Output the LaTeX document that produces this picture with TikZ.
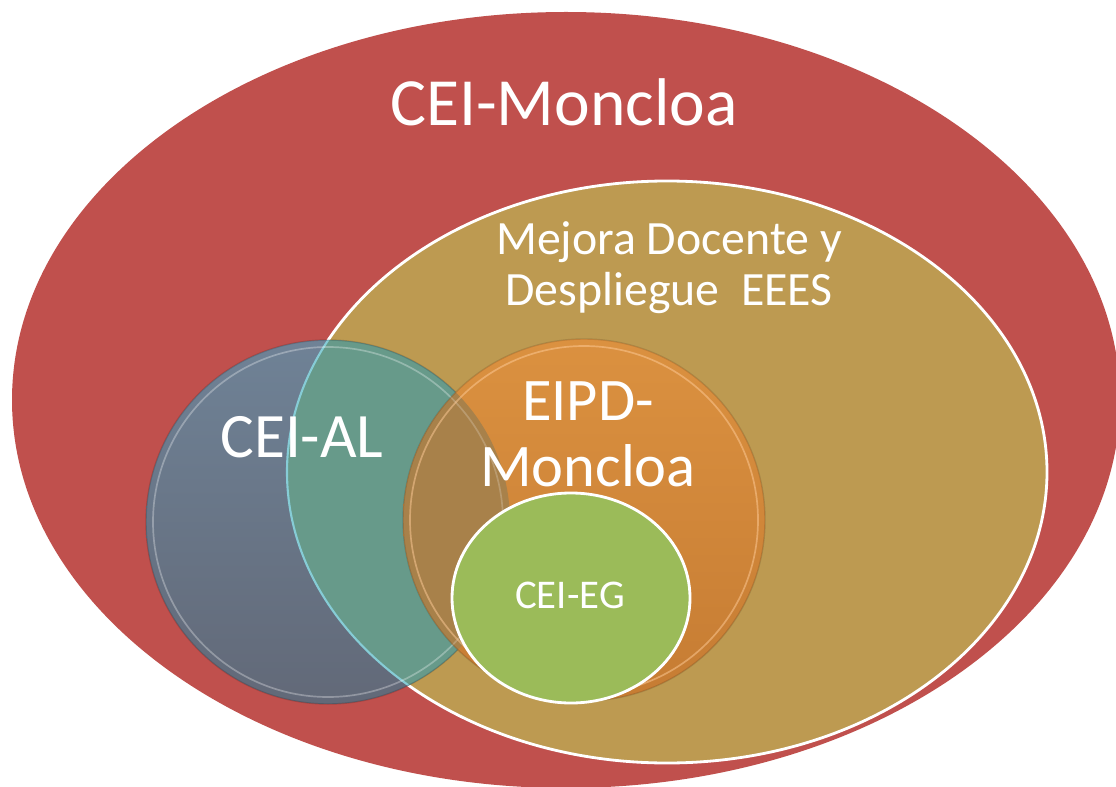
\documentclass[tikz,border=0pt]{standalone}
\usepackage{fontspec}
\setmainfont{Carlito}
\definecolor{moncloared}{HTML}{C0504D}
\definecolor{docentetan}{HTML}{BD9A51}
\definecolor{algraytop}{HTML}{6F8296}
\definecolor{algraybot}{HTML}{626978}
\definecolor{alteal}{HTML}{679A8A}
\definecolor{alcyan}{HTML}{86CCD6}
\definecolor{eipdtop}{HTML}{DB9140}
\definecolor{eipdbot}{HTML}{C67C33}
\definecolor{eipdmix}{HTML}{A8814A}
\definecolor{eggreen}{HTML}{9BBB59}
\tikzset{
  lbl/.style={text=white, inner sep=0pt, anchor=base},
  whiterim/.style={draw=white, line width=2pt},
}
\begin{document}
\begin{tikzpicture}[x=0.025cm, y=-0.025cm]
\useasboundingbox (0,0) rectangle (1116,787);
\fill[white] (0,0) rectangle (1116,787);
\coordinate (moncloa) at (566,400);
\coordinate (docente) at (667,472);
\coordinate (al) at (328,522);
\coordinate (eipd) at (584,520);
\coordinate (eg) at (571,598);
% outer sets
\fill[moncloared] (moncloa) ellipse [x radius=554, y radius=388];
\fill[docentetan, whiterim] (docente) ellipse [x radius=380, y radius=291];
% CEI-AL
\shade[top color=algraytop, bottom color=algraybot] (al) circle [radius=182];
\begin{scope}
  \clip (docente) ellipse [x radius=380, y radius=291];
  \fill[alteal] (al) circle [radius=182];
\end{scope}
\begin{scope}
  \clip (al) circle [radius=182];
  \draw[alcyan, line width=1.5pt] (docente) ellipse [x radius=380, y radius=291];
\end{scope}
\draw[white, opacity=0.3, line width=1.2pt] (al) circle [radius=175];
\draw[black, opacity=0.15, line width=1pt] (al) circle [radius=182];
% EIPD-Moncloa
\shade[top color=eipdtop, bottom color=eipdbot] (eipd) circle [radius=181];
\begin{scope}
  \clip (eipd) circle [radius=181];
  \fill[eipdmix] (al) circle [radius=182];
  \draw[white, opacity=0.2, line width=1.2pt] (al) circle [radius=175];
\end{scope}
\draw[orange!40!white, opacity=0.5, line width=1.2pt] (eipd) circle [radius=174];
\draw[black, opacity=0.12, line width=1pt] (eipd) circle [radius=181];
% CEI-EG
\fill[eggreen, whiterim] (eg) ellipse [x radius=119, y radius=105];
% labels
\node[lbl, font=\fontsize{48}{56}\selectfont] (tmoncloa) at (564,126) {CEI-Moncloa};
\node[lbl, font=\fontsize{34}{36.2}\selectfont, align=center, anchor=center] (tdocente) at (669,268) {Mejora Docente y\\Despliegue~~EEES};
\node[lbl, font=\fontsize{45}{50}\selectfont] (tal) at (302,457) {CEI-AL};
\node[lbl, font=\fontsize{43}{46.8}\selectfont, align=center, anchor=center] (teipd) at (588,434) {EIPD-\\Moncloa};
\node[lbl, font=\fontsize{29}{32}\selectfont] (teg) at (570,608) {CEI-EG};
\end{tikzpicture}
\end{document}
